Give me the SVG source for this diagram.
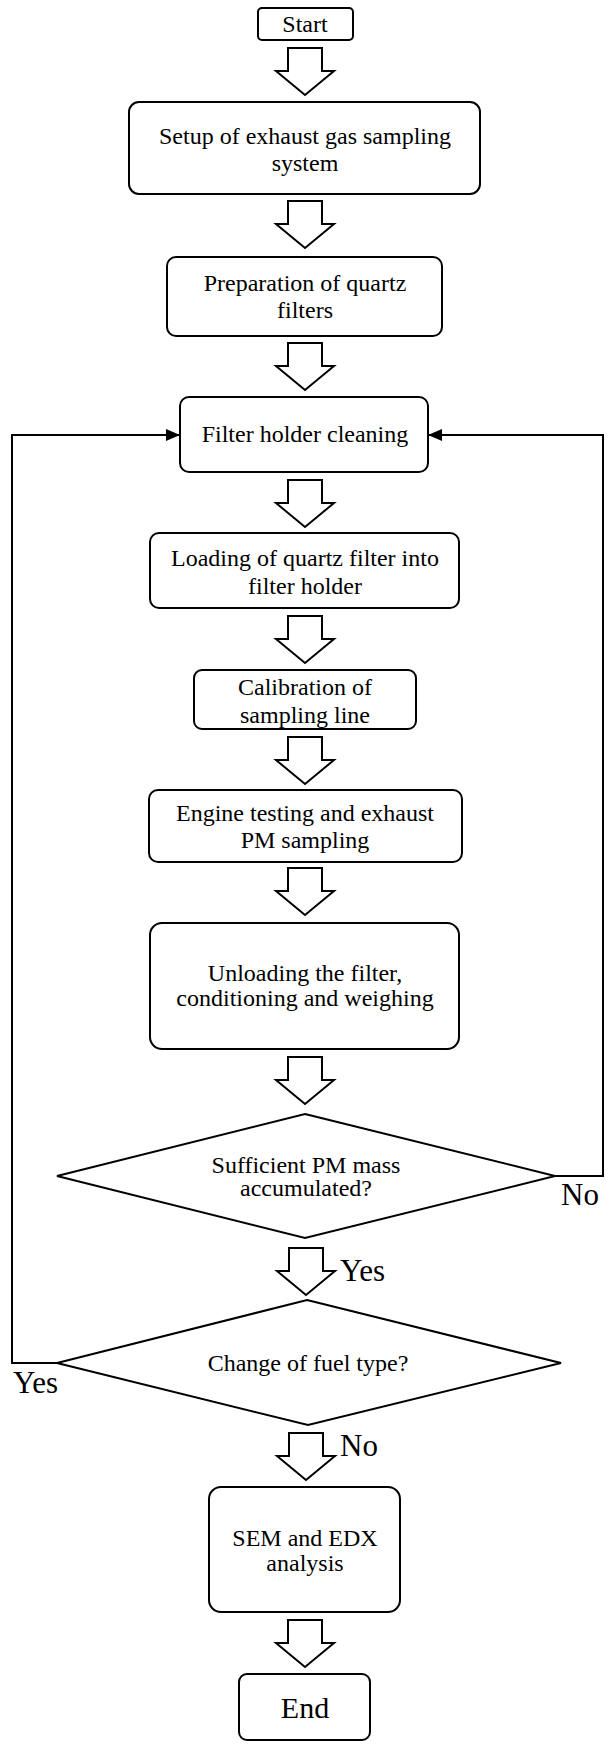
<svg xmlns="http://www.w3.org/2000/svg" width="611" height="1744" viewBox="0 0 611 1744">
<style>
.box{fill:#fff;stroke:#000;stroke-width:2}
.blk{fill:#fff;stroke:#000;stroke-width:2;stroke-linejoin:miter}
.t{font-family:"Liberation Serif","Times New Roman",serif;font-size:24px;fill:#000;text-anchor:middle}
.lbl{font-family:"Liberation Serif","Times New Roman",serif;font-size:31px;fill:#000}
.ln{fill:none;stroke:#000;stroke-width:2}
</style>
<defs>
<marker id="ah" viewBox="0 0 14 12" refX="14" refY="6" markerWidth="7" markerHeight="6" orient="auto" markerUnits="strokeWidth">
<path d="M0,0 L14,6 L0,12 z" fill="#000"/>
</marker>
<path id="barrow" d="M-17,0 L17,0 L17,23 L29,23 L0,47 L-29,23 L-17,23 z"/>
</defs>
<rect width="611" height="1744" fill="#fff"/>

<g id="connectors">
<polyline class="ln" points="57,1363 12,1363 12,435 180,435" marker-end="url(#ah)"/>
<polyline class="ln" points="555,1176 603,1176 603,435 428,435" marker-end="url(#ah)"/>
<use href="#barrow" class="blk" x="305" y="48"/>
<use href="#barrow" class="blk" x="305" y="201"/>
<use href="#barrow" class="blk" x="305" y="343"/>
<use href="#barrow" class="blk" x="305" y="480"/>
<use href="#barrow" class="blk" x="305" y="616"/>
<use href="#barrow" class="blk" x="305" y="737"/>
<use href="#barrow" class="blk" x="305" y="868"/>
<use href="#barrow" class="blk" x="305" y="1057"/>
<use href="#barrow" class="blk" x="306" y="1248"/>
<use href="#barrow" class="blk" x="306" y="1433"/>
<use href="#barrow" class="blk" x="305" y="1620"/>
<text class="lbl" x="561" y="1205">No</text>
<text class="lbl" x="340" y="1281">Yes</text>
<text class="lbl" x="13" y="1393">Yes</text>
<text class="lbl" x="340" y="1456">No</text>
</g>

<g id="start">
<rect class="box" x="258" y="8" width="95" height="32" rx="4"/>
<text class="t" x="305" y="32">Start</text>
</g>
<g id="setup">
<rect class="box" x="129" y="102" width="351" height="92" rx="10"/>
<text class="t" x="305" y="144">Setup of exhaust gas sampling</text>
<text class="t" x="305" y="171">system</text>
</g>
<g id="prep">
<rect class="box" x="167" y="257" width="275" height="79" rx="9"/>
<text class="t" x="305" y="291">Preparation of quartz</text>
<text class="t" x="305" y="318">filters</text>
</g>
<g id="clean">
<rect class="box" x="180" y="397" width="248" height="75" rx="9"/>
<text class="t" x="305" y="442">Filter holder cleaning</text>
</g>
<g id="load">
<rect class="box" x="150" y="533" width="309" height="75" rx="9"/>
<text class="t" x="305" y="566">Loading of quartz filter into</text>
<text class="t" x="305" y="594">filter holder</text>
</g>
<g id="calib">
<rect class="box" x="194" y="670" width="222" height="59" rx="8"/>
<text class="t" x="305" y="695">Calibration of</text>
<text class="t" x="305" y="723">sampling line</text>
</g>
<g id="engine">
<rect class="box" x="149" y="790" width="313" height="72" rx="9"/>
<text class="t" x="305" y="821">Engine testing and exhaust</text>
<text class="t" x="305" y="848">PM sampling</text>
</g>
<g id="unload">
<rect class="box" x="150" y="923" width="309" height="126" rx="12"/>
<text class="t" x="305" y="981">Unloading the filter,</text>
<text class="t" x="305" y="1006">conditioning and weighing</text>
</g>
<g id="dec1">
<polygon class="box" points="305,1114 555,1176 305,1238 57,1176"/>
<text class="t" x="306" y="1173">Sufficient PM mass</text>
<text class="t" x="306" y="1196">accumulated?</text>
</g>
<g id="dec2">
<polygon class="box" points="307,1300 561,1363 308,1425 57,1363"/>
<text class="t" x="308" y="1371">Change of fuel type?</text>
</g>
<g id="sem">
<rect class="box" x="209" y="1487" width="191" height="125" rx="12"/>
<text class="t" x="305" y="1546">SEM and EDX</text>
<text class="t" x="305" y="1571">analysis</text>
</g>
<g id="end">
<rect class="box" x="239" y="1674" width="131" height="66" rx="8"/>
<text class="t" x="305" y="1718" style="font-size:30px">End</text>
</g>
</svg>
